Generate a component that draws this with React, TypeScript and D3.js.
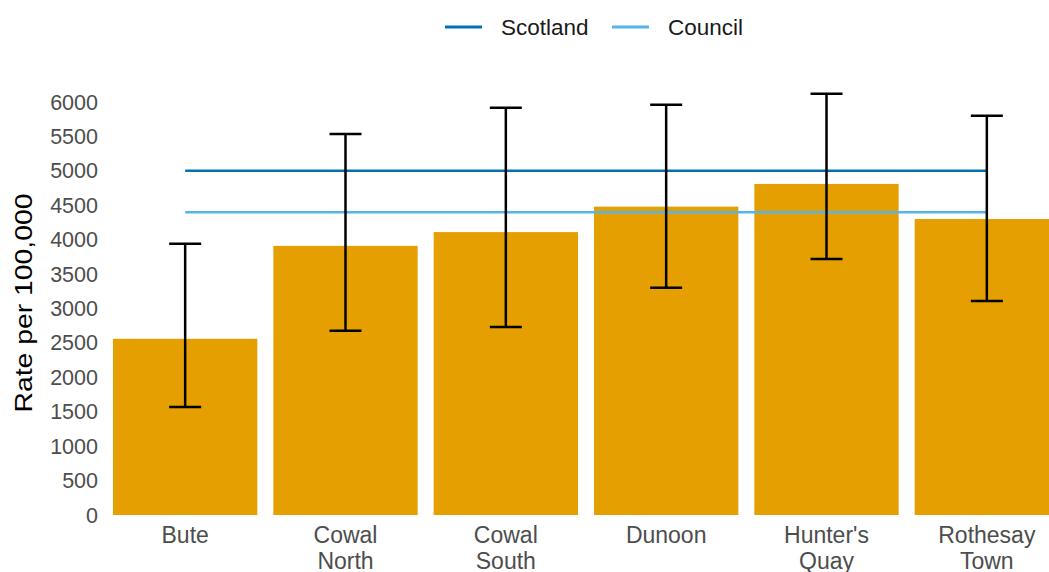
import React from "react";
import * as d3 from "d3";

const categories = ["Bute", "Cowal North", "Cowal South", "Dunoon", "Hunter's Quay", "Rothesay Town"];
const labelLines = [["Bute"], ["Cowal", "North"], ["Cowal", "South"], ["Dunoon"], ["Hunter's", "Quay"], ["Rothesay", "Town"]];
const rates = [2560, 3910, 4110, 4480, 4810, 4300];
const lower = [1570, 2675, 2730, 3300, 3720, 3110];
const upper = [3940, 5535, 5915, 5960, 6120, 5800];
const scotlandRate = 5000;
const councilRate = 4400;
const yTicks = [0, 500, 1000, 1500, 2000, 2500, 3000, 3500, 4000, 4500, 5000, 5500, 6000];

const W = 1049;
const H = 572;
const FONT = "'Liberation Sans', Arial, sans-serif";
const BAR = "#E69F00";
const SCOT = "#0072B2";
const COUNCIL = "#56B4E9";

export default function App() {
  const x = d3.scaleBand<string>().domain(categories).range([105, 1067]).paddingInner(0.1).paddingOuter(0.05);
  const y = d3.scaleLinear().domain([0, 6000]).range([515, 102]);
  const bw = x.bandwidth();
  const cx = (c: string) => (x(c) as number) + bw / 2;
  const x0 = cx(categories[0]);
  const x1 = cx(categories[categories.length - 1]);
  const cap = 16;

  return (
    <svg width={W} height={H} style={{ position: "absolute", left: 0, top: 0, background: "#fff" }} fontFamily={FONT}>
      {/* legend */}
      <g>
        <line x1={445} x2={482} y1={27} y2={27} stroke={SCOT} strokeWidth={3} />
        <text x={501} y={27} dy="0.35em" fontSize={22.5} fill="#1a1a1a">Scotland</text>
        <line x1={612} x2={649} y1={27} y2={27} stroke={COUNCIL} strokeWidth={3} />
        <text x={668} y={27} dy="0.35em" fontSize={22.5} fill="#1a1a1a">Council</text>
      </g>
      {/* y axis */}
      <g>
        {yTicks.map((t) => (
          <text key={t} x={98} y={y(t)} dy="0.35em" textAnchor="end" fontSize={21.5} fill="#4d4d4d">{t}</text>
        ))}
        <text transform={`translate(32,303) rotate(-90)`} textAnchor="middle" fontSize={24} textLength={219} lengthAdjust="spacingAndGlyphs" fill="#000">Rate per 100,000</text>
      </g>
      {/* bars */}
      {categories.map((c, i) => (
        <rect key={c} x={x(c)} y={y(rates[i])} width={bw} height={y(0) - y(rates[i])} fill={BAR} />
      ))}
      {/* reference lines */}
      <line x1={x0} x2={x1} y1={y(scotlandRate)} y2={y(scotlandRate)} stroke={SCOT} strokeWidth={2.5} />
      <line x1={x0} x2={x1} y1={y(councilRate)} y2={y(councilRate)} stroke={COUNCIL} strokeWidth={2.5} />
      {/* error bars */}
      {categories.map((c, i) => {
        const m = cx(c);
        return (
          <g key={c} stroke="#000" strokeWidth={2.5}>
            <line x1={m} x2={m} y1={y(lower[i])} y2={y(upper[i])} />
            <line x1={m - cap} x2={m + cap} y1={y(upper[i])} y2={y(upper[i])} />
            <line x1={m - cap} x2={m + cap} y1={y(lower[i])} y2={y(lower[i])} />
          </g>
        );
      })}
      {/* x labels */}
      {categories.map((c, i) => (
        <text key={c} textAnchor="middle" fontSize={23} fill="#4d4d4d">
          {labelLines[i].map((l, j) => (
            <tspan key={j} x={cx(c)} y={543 + j * 26}>{l}</tspan>
          ))}
        </text>
      ))}
    </svg>
  );
}
